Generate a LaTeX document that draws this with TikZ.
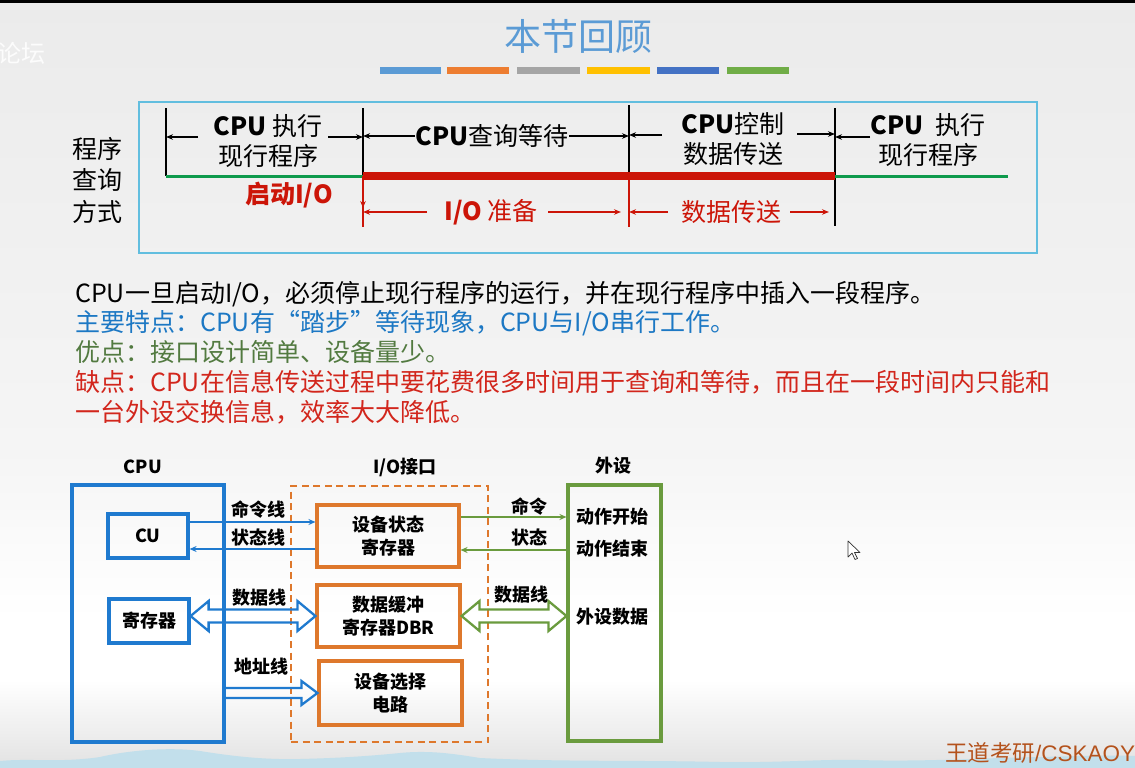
\documentclass[tikz,border=0pt]{standalone}
\usepackage{fontspec}
\setmainfont{Noto Sans CJK SC}
\newfontfamily\latinsans{Liberation Sans}
\usetikzlibrary{arrows.meta,calc}

\definecolor{titleblue}{HTML}{5B9BD5}
\definecolor{barA}{HTML}{5B9BD5}
\definecolor{barB}{HTML}{ED7D31}
\definecolor{barC}{HTML}{A5A5A5}
\definecolor{barD}{HTML}{FFC000}
\definecolor{barE}{HTML}{4472C4}
\definecolor{barF}{HTML}{70AD47}
\definecolor{frameblue}{HTML}{62BEDF}
\definecolor{tlgreen}{HTML}{0E9A4C}
\definecolor{tlred}{HTML}{CC1508}
\definecolor{txtblue}{HTML}{1C78C4}
\definecolor{txtgreen}{HTML}{527A40}
\definecolor{txtred}{HTML}{D2261C}
\definecolor{dblue}{HTML}{1F7ACF}
\definecolor{dorange}{HTML}{DE782C}
\definecolor{dgreen}{HTML}{6A9B3E}
\definecolor{bgA}{HTML}{EBEBEB}
\definecolor{bgB}{HTML}{F5F5F5}
\definecolor{bgC}{HTML}{E2E2E2}
\definecolor{wave}{HTML}{C2DFEB}
\definecolor{brand}{HTML}{B4521C}

% two-headed hollow arrow between two points (y taken from the first point)
\newcommand{\dblhollow}[3]{%
  \draw[#1] let \p1=(#2), \p2=(#3) in
    (\x1,\y1) -- ++(18pt,15pt) -- ++(0pt,-8.5pt) -- (\x2-18pt,\y1+6.5pt)
    -- ++(0pt,8.5pt) -- (\x2,\y1) -- ++(-18pt,-15pt) -- ++(0pt,8.5pt)
    -- (\x1+18pt,\y1-6.5pt) -- ++(0pt,-8.5pt) -- cycle;}
% one-headed hollow arrow, open at its start
\newcommand{\sglhollow}[3]{%
  \draw[#1] let \p1=(#2), \p2=(#3) in
    (\x1,\y1+5pt) -- (\x2-16pt,\y1+5pt) -- ++(0pt,7pt) -- (\x2,\y1)
    -- (\x2-16pt,\y1-12pt) -- ++(0pt,7pt) -- (\x1,\y1-5pt);}

\tikzset{
  tick/.style={line width=1.4pt, draw=black},
  dimarr/.style={line width=1.2pt, draw=black, -{Stealth[length=7pt,width=5.5pt]}},
  reddim/.style={line width=1.4pt, draw=tlred, -{Stealth[length=7pt,width=5.5pt]}},
  tllabel/.style={inner sep=0pt, align=center, font=\fontsize{25}{30}\selectfont},
  para/.style={anchor=west, inner sep=0pt, font=\fontsize{25}{25}\selectfont},
  hdr/.style={inner sep=0pt, font=\fontsize{18}{18}\selectfont\bfseries},
  dtext/.style={inner sep=0pt, align=center, font=\fontsize{18}{23}\selectfont\bfseries},
  cpubox/.style={draw=dblue, line width=3.1pt, inner sep=0pt},
  regbox/.style={draw=dblue, line width=3.2pt, inner sep=0pt, dtext,
                 minimum width=80pt, minimum height=44pt},
  iobox/.style={draw=dorange, line width=3.1pt, inner sep=0pt, dtext,
                minimum width=142pt, minimum height=62pt},
  devbox/.style={draw=dgreen, line width=3.1pt, inner sep=0pt},
  bluearr/.style={draw=dblue, line width=2pt, -{Stealth[length=7pt,width=6pt]}},
  greenarr/.style={draw=dgreen, line width=2pt, -{Stealth[length=7pt,width=6pt]}},
  bluehollow/.style={draw=dblue, line width=2.3pt, line join=miter},
  greenhollow/.style={draw=dgreen, line width=2.3pt, line join=miter},
}

\begin{document}
\begin{tikzpicture}[x=1pt,y=-1pt]
\useasboundingbox (0,0) rectangle (1135,768);
\clip (0,0) rectangle (1135,768);

% ---------- background ----------
\fill[white] (0,0) rectangle (1135,768);
\shade[top color=bgA, bottom color=bgB] (0,0) rectangle (1135,450);
\shade[top color=bgB, bottom color=white] (0,450) rectangle (1135,620);
\shade[top color=white, bottom color=bgC] (0,680) rectangle (1135,768);
\fill[black] (0,0) rectangle (1135,3);
\fill[wave] (0,768) -- (0,761)
  .. controls (30,758) and (60,763) .. (100,757)
  .. controls (130,750) and (170,747) .. (200,751)
  .. controls (225,755) and (260,760) .. (300,759)
  .. controls (340,758) and (370,756) .. (400,753)
  .. controls (430,750) and (455,754) .. (480,758)
  .. controls (560,762) and (640,760) .. (720,762)
  .. controls (780,763) and (820,759) .. (860,760)
  .. controls (920,762) and (980,758) .. (1040,757)
  .. controls (1080,756) and (1110,755) .. (1135,756)
  -- (1135,768) -- cycle;
\node[anchor=east, inner sep=0pt, text=white, opacity=0.85, font=\fontsize{24}{24}\selectfont] (wm) at (46,53) {论坛};

% ---------- title ----------
\node[inner sep=0pt, text=titleblue, font=\fontsize{37}{37}\selectfont] (title) at (578,36) {本节回顾};
\fill[barA] (380,67) rectangle (441,74);
\fill[barB] (447,67) rectangle (509,74);
\fill[barC] (517,67) rectangle (580,74);
\fill[barD] (587,67) rectangle (650,74);
\fill[barE] (657,67) rectangle (719,74);
\fill[barF] (727,67) rectangle (789,74);

% ---------- timeline ----------
\draw[frameblue, line width=1.2pt] (139,102) rectangle (1037,253);
\node[tllabel, font=\fontsize{25}{31.5}\selectfont] (mode) at (97,180) {程序\\查询\\方式};

\coordinate (v0) at (166,176);
\coordinate (v1) at (363,176);
\coordinate (v2) at (629,176);
\coordinate (v3) at (835,176);
\coordinate (v4) at (1008,176);
\coordinate (v0t) at (166,108);
\coordinate (v1t) at (363,108);
\coordinate (v2t) at (629,105);
\coordinate (v3t) at (835,108);
\coordinate (v1b) at (363,227);
\coordinate (v2b) at (629,227);
\coordinate (v3b) at (835,226);
\coordinate (v1m) at (363,208);

\draw[tick] (v0t) -- (v0);
\draw[tick] (v1t) -- (v1);
\draw[tick] (v2t) -- (v2);
\draw[tick] (v3t) -- (v3b);
\draw[tlgreen, line width=3pt] (v0) -- (v1);
\draw[tlgreen, line width=3pt] (v3) -- (v4);
\draw[tlred, line width=2pt] (v1) -- (v1b);
\draw[tlred, line width=2pt] (v2) -- (v2b);
\draw[tlred, line width=8pt] (v1) -- (v3);
\draw[reddim] (v1) -- (v1m);

% upper labels and their spans
\node[tllabel] (lab1) at (268,141) {\textbf{CPU} 执行\\现行程序};
\node[tllabel] (lab2) at (492,136) {\textbf{CPU}查询等待};
\node[tllabel] (lab3) at (733,139) {\textbf{CPU}控制\\数据传送};
\node[tllabel] (lab4) at (928,140) {\textbf{CPU}\ \ 执行\\现行程序};

\coordinate (a1s) at (198,137);  \coordinate (a1e) at (166,137);
\coordinate (a2s) at (328,137);  \coordinate (a2e) at (363,137);
\coordinate (a3s) at (415,136);  \coordinate (a3e) at (363,136);
\coordinate (a4s) at (569,136);  \coordinate (a4e) at (629,136);
\coordinate (a5s) at (662,135);  \coordinate (a5e) at (629,135);
\coordinate (a6s) at (797,134);  \coordinate (a6e) at (835,134);
\coordinate (a7s) at (870,137);  \coordinate (a7e) at (835,137);
\foreach \i in {1,...,7} {\draw[dimarr] (a\i s) -- (a\i e);}

% lower labels and their spans
\node[tllabel, text=tlred, font=\fontsize{25}{30}\selectfont\bfseries] (start) at (289,195) {启动I/O};
\node[tllabel, text=tlred] (prep) at (491,212) {\textbf{I/O} 准备};
\node[tllabel, text=tlred] (xfer) at (731,212) {数据传送};
\coordinate (b1s) at (427,212);  \coordinate (b1e) at (363,212);
\coordinate (b2s) at (548,212);  \coordinate (b2e) at (621,212);
\coordinate (b3s) at (668,212);  \coordinate (b3e) at (629,212);
\coordinate (b4s) at (790,212);  \coordinate (b4e) at (829,212);
\foreach \i in {1,...,4} {\draw[reddim] (b\i s) -- (b\i e);}

% ---------- summary text ----------
\node[para] (p1) at (75,294) {CPU一旦启动I/O，必须停止现行程序的运行，并在现行程序中插入一段程序。};
\node[para, text=txtblue] (p2) at (75,323) {主要特点：CPU有“踏步”等待现象，CPU与I/O串行工作。};
\node[para, text=txtgreen] (p3) at (75,352) {优点：接口设计简单、设备量少。};
\node[para, text=txtred] (p4) at (75,382) {缺点：CPU在信息传送过程中要花费很多时间用于查询和等待，而且在一段时间内只能和};
\node[para, text=txtred] (p5) at (75,412) {一台外设交换信息，效率大大降低。};

% ---------- interface diagram ----------
\node[hdr] (hcpu) at (143,467) {CPU};
\node[hdr] (hio) at (405,467) {I/O接口};
\node[hdr] (hdev) at (613,466) {外设};

\node[cpubox, minimum width=152pt, minimum height=257pt] (cpu) at (148,613.5) {};
\node[regbox] (cu) at (148,536) {CU};
\node[regbox] (reg) at (149,621) {寄存器};

\node[draw=dorange, line width=2.3pt, dash pattern=on 7pt off 4.5pt,
      minimum width=197pt, minimum height=256pt, inner sep=0pt] (io) at (389.5,614) {};
\node[iobox] (sreg) at (388,536) {设备状态\\寄存器};
\node[iobox, minimum width=143pt] (dbr) at (388.5,616) {数据缓冲\\寄存器DBR};
\node[iobox, minimum width=143pt, minimum height=64pt] (sel) at (390.5,693) {设备选择\\电路};

\node[devbox, minimum width=93pt, minimum height=256pt] (dev) at (614.5,613) {};
\node[dtext] (d1) at (612,517) {动作开始};
\node[dtext] (d2) at (612,549) {动作结束};
\node[dtext] (d3) at (612,617) {外设数据};

% CPU side lines
\coordinate (cmdA) at ([yshift=14pt]cu.east);
\coordinate (staA) at ([yshift=-13pt]sreg.west);
\draw[bluearr] (cmdA) -- (cmdA -| sreg.west);
\draw[bluearr] (staA) -- (staA -| cu.east);
\dblhollow{bluehollow}{reg.east |- dbr.west}{dbr.west}
\sglhollow{bluehollow}{cpu.east |- sel.west}{sel.west}
\node[dtext] (lcmd) at (258,510) {命令线};
\node[dtext] (lsta) at (258,538) {状态线};
\node[dtext] (ldat) at (259,598) {数据线};
\node[dtext] (ladr) at (261,667) {地址线};

% device side lines
\coordinate (cmdB) at ([yshift=19pt]sreg.east);
\coordinate (staB) at ([yshift=-14pt]dev.west |- sreg.east);
\draw[greenarr] (cmdB) -- (cmdB -| dev.west);
\draw[greenarr] (staB) -- (staB -| sreg.east);
\dblhollow{greenhollow}{dbr.east}{dev.west}
\node[dtext] (lcmd2) at (529,507) {命令};
\node[dtext] (lsta2) at (529,538) {状态};
\node[dtext] (ldat2) at (521,595) {数据线};

% pointer
\filldraw[fill=white, draw=black!80, line width=0.7pt, line join=round]
  (848,541) -- (848,557) -- (852,553) -- (855,559.5) -- (857.5,558.5)
  -- (854.5,552.5) -- (860,552.5) -- cycle;

% brand line
\node[anchor=west, inner sep=0pt, text=brand, font=\fontsize{22.5}{22.5}\selectfont] (brandtxt) at (945,753) {王道考研{\latinsans /CSKAOY}};
\end{tikzpicture}
\end{document}
